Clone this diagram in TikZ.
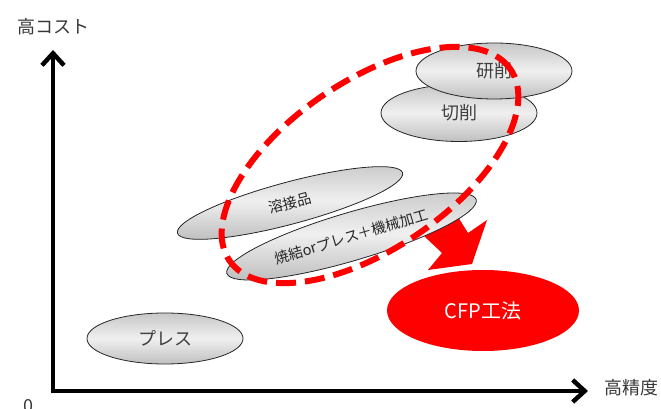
\documentclass[tikz,border=0pt]{standalone}
\usepackage{fontspec}
\setmainfont{Noto Sans CJK JP}
\usetikzlibrary{shapes.geometric,arrows.meta}
\definecolor{cfpred}{RGB}{255,0,0}
\tikzset{axtip/.tip={Straight Barb[length=12pt,width=22pt,line width=4.5pt]}}
\begin{document}
\begin{tikzpicture}[x=1pt,y=1pt,
  lbl/.style={font=\fontsize{18}{18}\selectfont, text=black!78, inner sep=0pt},
  blob/.style={ellipse, draw=black!85, line width=0.8pt, inner sep=0pt,
    top color=black!22, bottom color=black!25, middle color=black!6,
    text=black!75, font=\fontsize{18}{18}\selectfont},
  smallblob/.style={blob, font=\fontsize{14.5}{14.5}\selectfont, text=black!85},
  axisline/.style={line width=4.5pt, line join=miter, black},
  dashring/.style={ellipse, draw=cfpred, line width=6pt, dash pattern=on 20pt off 9pt, inner sep=0pt},
  bigred/.style={fill=cfpred, draw=none}
]
\useasboundingbox (0,0) rectangle (661,409);

% axes
\coordinate (O) at (53,18);
\coordinate (Ytip) at (53,359);
\coordinate (Xtip) at (588,18);
\draw[axisline, axtip-axtip] (Ytip) -- (O) -- (Xtip);
\node[lbl] (ylab) at (53,382) {高コスト};
\node[lbl] (xlab) at (631,21) {高精度};
\node[lbl] (zero) at (28,3) {0};

% gray ellipses
\node[blob, minimum width=156pt, minimum height=57pt] (setsu) at (459,296) {切削};
\node[blob, minimum width=156pt, minimum height=56pt] (ken) at (494,338) {研削};
\node[smallblob, minimum width=233pt, minimum height=42pt, rotate=15] (yosetsu) at (290,206) {溶接品};

% red arrow
\coordinate (a1) at (424,173);
\coordinate (a2) at (442,156);
\coordinate (a3) at (428,139);
\coordinate (a4) at (472,145);
\coordinate (a5) at (487,189);
\coordinate (a6) at (468,176);
\coordinate (a7) at (455,197);
\fill[bigred] (a1) -- (a2) -- (a3) -- (a4) -- (a5) -- (a6) -- (a7) -- cycle;

\node[smallblob, minimum width=260pt, minimum height=48pt, rotate=16.5] (shoketsu) at (351.5,172.5) {焼結orプレス＋機械加工};

\node[blob, minimum width=156pt, minimum height=51pt] (press) at (165,70.5) {プレス};
\node[ellipse, bigred, minimum width=192pt, minimum height=81pt, inner sep=0pt,
  text=white, font=\fontsize{20}{20}\selectfont] (cfp) at (483,98.5) {CFP工法};

% dashed red ellipse
\node[dashring, minimum width=340pt, minimum height=168pt, rotate=34.2] (ring) at (370,244) {};
\end{tikzpicture}
\end{document}
